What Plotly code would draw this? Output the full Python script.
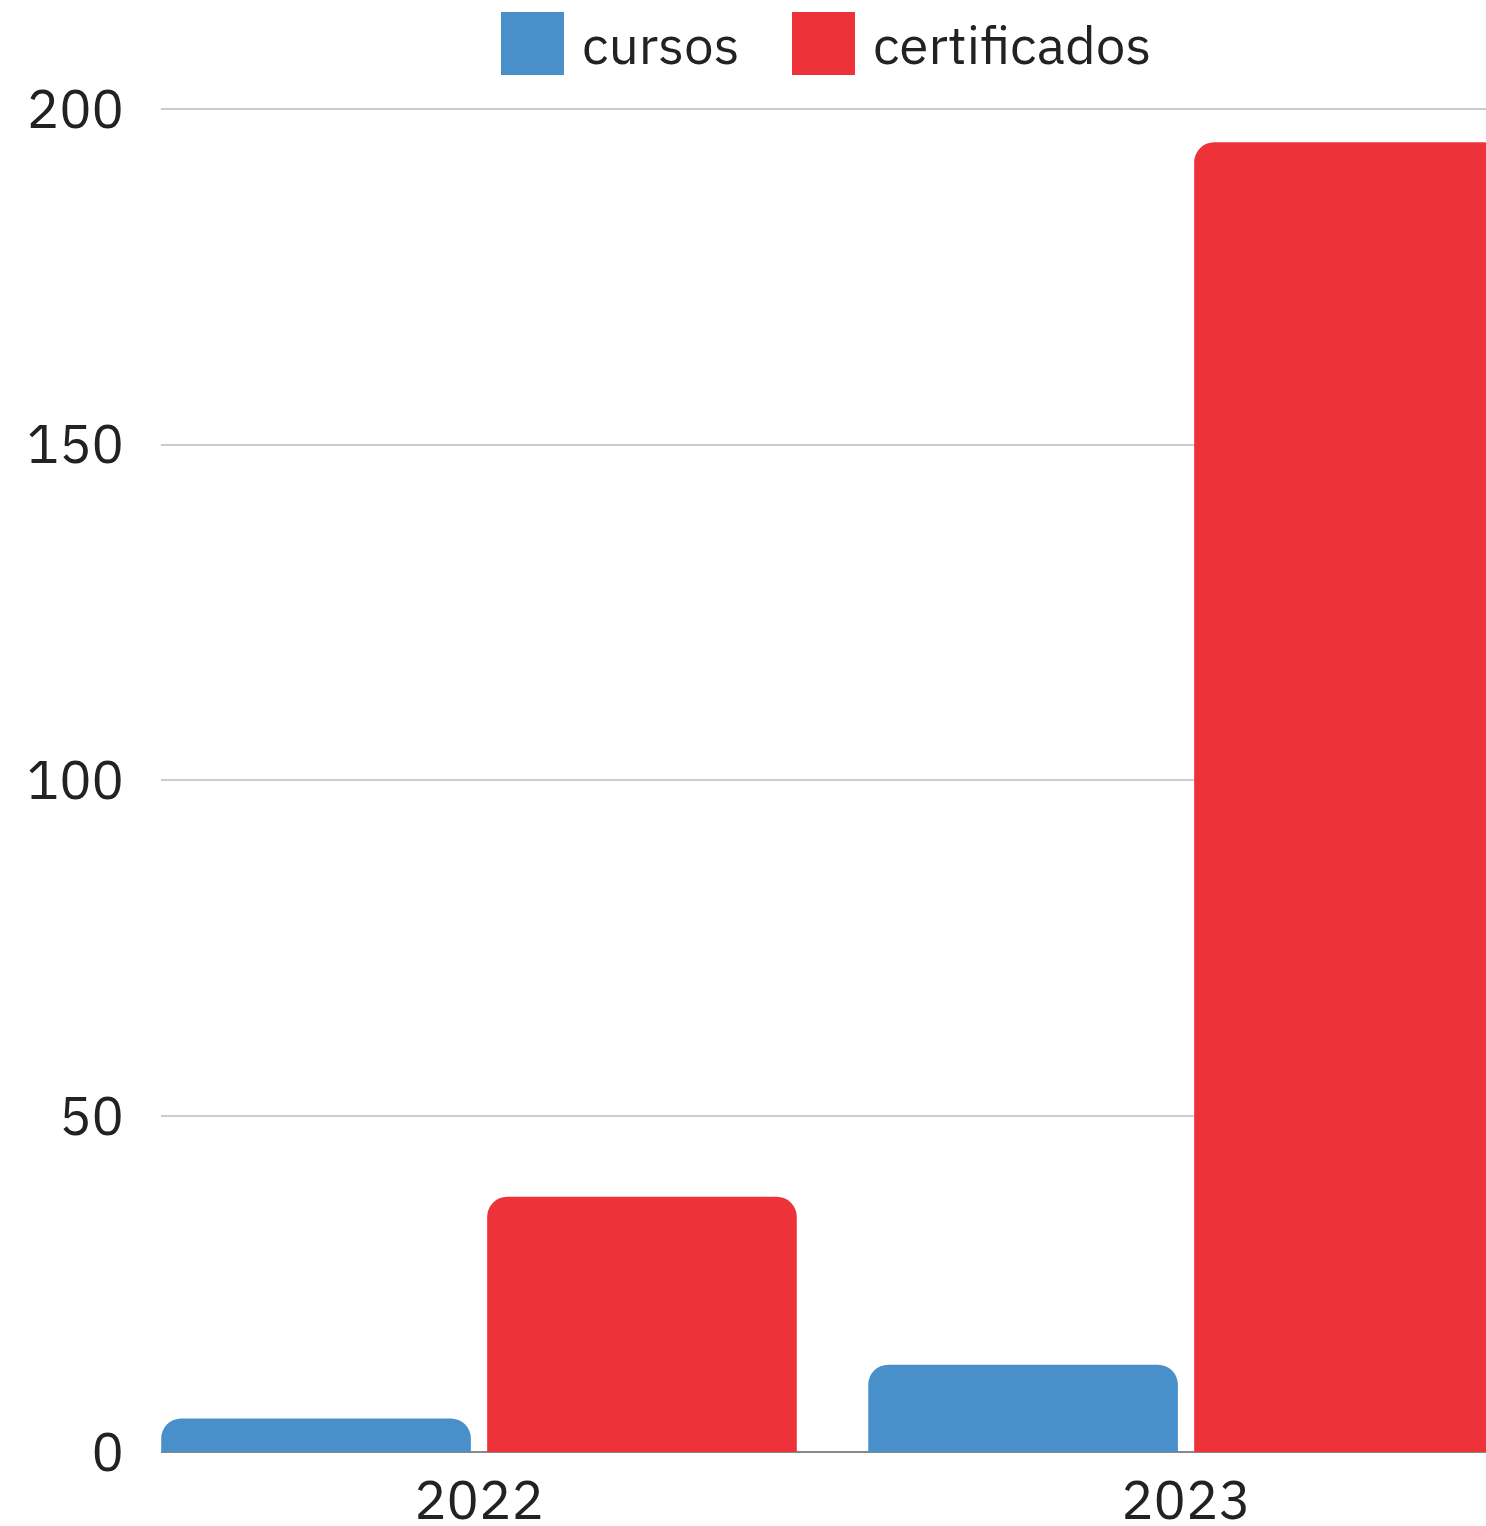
import plotly.graph_objects as go

# ---- data ----
years = ["2022", "2023"]
cursos = [5, 13]
certificados = [38, 195]
series_names = ["cursos", "certificados"]
y_ticks = [0, 50, 100, 150, 200]

BLUE = "#498fca"
RED = "#ed3339"
TXT = "#222222"
FONT = "IBM Plex Sans, Roboto, Inter, sans-serif"

W, H = 1486, 1526
ML, MR, MT, MB = 161, 0, 102, 74
PW, PH = W - ML - MR, H - MT - MB

def px_x(x):
    return (x - ML) / PW

def px_y(y):
    return (H - MB - y) / PH

fig = go.Figure()
fig.add_trace(go.Bar(x=years, y=cursos, name=series_names[0], marker_color=BLUE,
                     marker_line_width=0, showlegend=False))
fig.add_trace(go.Bar(x=years, y=certificados, name=series_names[1], marker_color=RED,
                     marker_line_width=0, showlegend=False))

# custom legend (large square swatches)
legend_items = [(series_names[0], BLUE, 501), (series_names[1], RED, 792)]
for name, col, x0 in legend_items:
    fig.add_shape(type="rect", xref="paper", yref="paper",
                  x0=px_x(x0), x1=px_x(x0 + 63), y0=px_y(75), y1=px_y(12),
                  fillcolor=col, line_width=0, layer="above")
    fig.add_annotation(text=name, xref="paper", yref="paper",
                       x=px_x(x0 + 79), y=px_y(44), xanchor="left", yanchor="middle",
                       showarrow=False, font=dict(family=FONT, size=53, color=TXT))

fig.update_layout(
    width=W, height=H,
    margin=dict(l=ML, r=MR, t=MT, b=MB, pad=0),
    paper_bgcolor="white", plot_bgcolor="white",
    barmode="group", bargap=0.078, bargroupgap=0.05,
    barcornerradius=20,
    font=dict(family=FONT, size=54, color=TXT),
    showlegend=False,
)
fig.update_xaxes(type="category", range=[-0.4498, 1.4243], showgrid=False,
                 showline=False, ticks="", ticklabelstandoff=12, automargin=False,
                 tickfont=dict(family=FONT, size=54, color=TXT), fixedrange=True)
fig.update_yaxes(range=[0, 201], tickvals=y_ticks, showgrid=True, gridcolor="#cccccc",
                 gridwidth=1.5, zeroline=True, zerolinecolor="#888888", zerolinewidth=1.5,
                 showline=False, ticks="", ticklabelstandoff=36, automargin=False,
                 tickfont=dict(family=FONT, size=54, color=TXT), fixedrange=True)

fig.write_html("out.html", post_script="document.body.style.margin='0';",
               config={"displayModeBar": False})
